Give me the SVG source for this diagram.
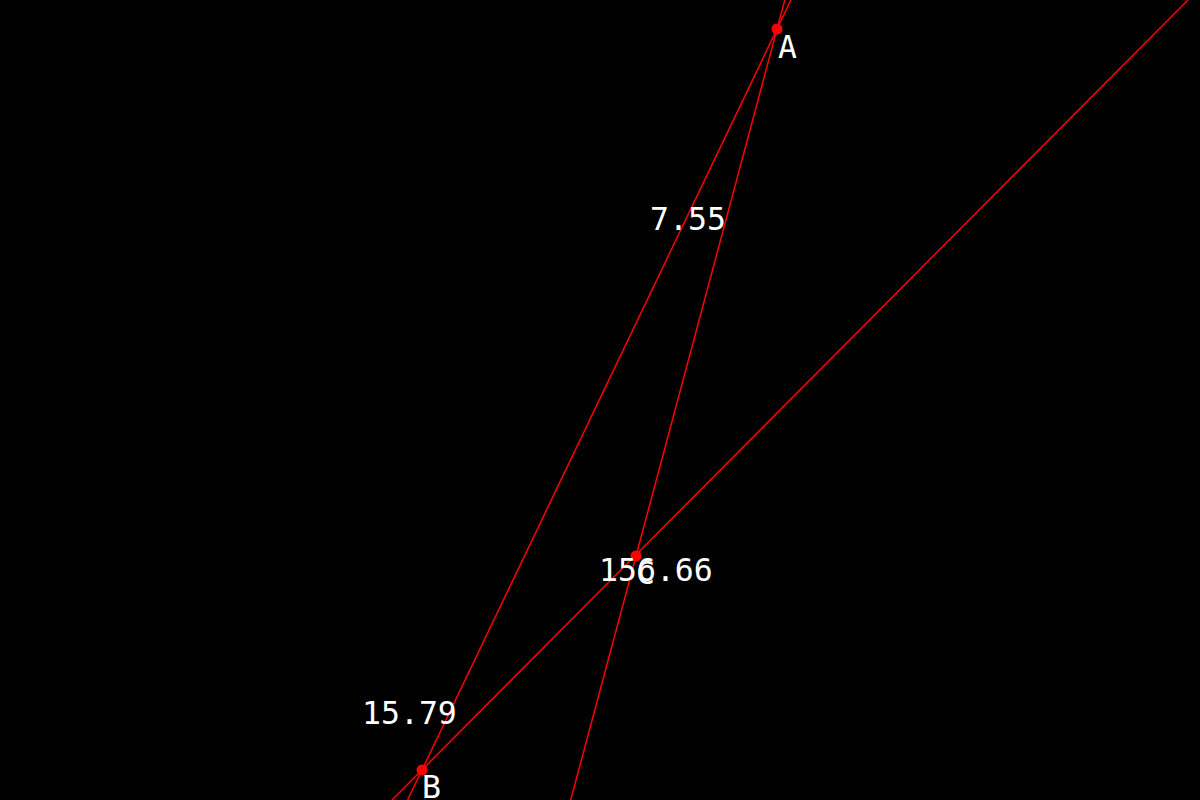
<svg xmlns="http://www.w3.org/2000/svg" width="1200" height="800" viewBox="0 0 1200 800">
<style>
.ln{stroke:#ff0000;stroke-width:1.5;fill:none}
.pt{fill:#ff0000}
.t{fill:#ffffff;font-family:"DejaVu Sans Mono",monospace;font-size:31.5px}
</style>
<rect width="1200" height="800" fill="#000000"/>
<g id="connectors">
<line class="ln" x1="790.9" y1="0" x2="407.6" y2="800"/>
<line class="ln" x1="784.8" y1="0" x2="570.7" y2="800"/>
<line class="ln" x1="1188" y1="0" x2="392" y2="800"/>
</g>
<g id="A"><circle class="pt" cx="777" cy="29" r="5.5"/><text class="t" x="778" y="58">A</text></g>
<g id="B"><circle class="pt" cx="422" cy="770" r="5.5"/><text class="t" x="422" y="798">B</text></g>
<g id="C"><circle class="pt" cx="636" cy="556" r="5.5"/><text class="t" x="636" y="584">C</text></g>
<g id="labels">
<text class="t" x="650" y="230">7.55</text>
<text class="t" x="599" y="581">156.66</text>
<text class="t" x="362" y="724">15.79</text>
</g>
</svg>
